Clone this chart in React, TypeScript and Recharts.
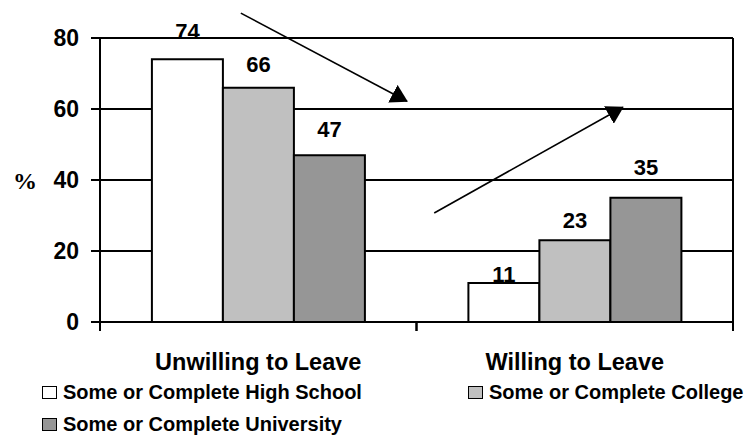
import React from 'react';
import { Bar, BarChart, CartesianGrid, LabelList, Legend, XAxis, YAxis } from 'recharts';

const categories = ['Unwilling to Leave', 'Willing to Leave'];
const highSchool = [74, 11];
const college = [66, 23];
const university = [47, 35];
const yTicks = [0, 20, 40, 60, 80];

const SERIES = [
  { key: 'highSchool', name: 'Some or Complete High School', color: '#FFFFFF', values: highSchool },
  { key: 'college', name: 'Some or Complete College', color: '#C0C0C0', values: college },
  { key: 'university', name: 'Some or Complete University', color: '#969696', values: university },
];

// how far each value label sits above its bar (baseline to bar top, px)
const LABEL_LIFT = [
  [20, 1],
  [16, 12],
  [18, 23],
];

// trend arrows, in category units (x) and percent (y)
const TREND_ARROWS = [
  { from: [0.445, 87], to: [0.97, 62.2] },
  { from: [1.056, 30.7], to: [1.652, 60.5] },
];

const FONT = "'Liberation Sans', Arial, sans-serif";
const CHART_W = 745;
const CHART_H = 430;
const MARGIN = { top: 30, right: 20, bottom: 0, left: 0 };
const Y_AXIS_W = 92;
const X_AXIS_H = 54;
const LEGEND_H = 62;
const LABEL_GAP = 31;
const Y_MAX = 80;
const LEGEND_COLS = [426, 285];

const PLOT = {
  left: MARGIN.left + Y_AXIS_W,
  top: MARGIN.top,
  width: CHART_W - MARGIN.left - MARGIN.right - Y_AXIS_W,
  height: CHART_H - MARGIN.top - MARGIN.bottom - X_AXIS_H - LEGEND_H,
};

const data = categories.map((category, i) => ({
  category,
  highSchool: highSchool[i],
  college: college[i],
  university: university[i],
}));

const CategoryTick = (props: any) => {
  const { x, y, payload } = props;
  const half = payload.offset ?? PLOT.width / categories.length / 2;
  const axisY = y - LABEL_GAP;
  return (
    <g>
      <line x1={x - half} x2={x - half} y1={axisY} y2={axisY + 9} stroke="#000" strokeWidth={2} />
      <line x1={x + half} x2={x + half} y1={axisY} y2={axisY + 9} stroke="#000" strokeWidth={2} />
      <text
        x={x}
        y={y}
        dy="0.71em"
        textAnchor="middle"
        fill="#000"
        fontFamily={FONT}
        fontWeight="bold"
        fontSize={23.5}
      >
        {payload.value}
      </text>
    </g>
  );
};

const PercentLabel = (props: any) => {
  const { viewBox } = props;
  return (
    <text
      x={viewBox.x + 5}
      y={viewBox.y + viewBox.height / 2}
      dy="0.36em"
      fill="#000"
      fontFamily="'Liberation Serif', 'Times New Roman', serif"
      fontWeight="bold"
      fontSize={24}
    >
      %
    </text>
  );
};

const valueLabel = (seriesIndex: number) => (props: any) => {
  const { x, y, width, value, index } = props;
  return (
    <text
      x={x + width / 2}
      y={y - LABEL_LIFT[seriesIndex][index]}
      textAnchor="middle"
      fill="#000"
      fontFamily={FONT}
      fontWeight="bold"
      fontSize={22}
    >
      {value}
    </text>
  );
};

const TrendArrows = () => {
  const toPx = ([u, v]: number[]) => [
    PLOT.left + (u / categories.length) * PLOT.width,
    PLOT.top + (1 - v / Y_MAX) * PLOT.height,
  ];
  return (
    <g>
      <defs>
        <marker
          id="trendHead"
          viewBox="0 0 17 20"
          refX={16}
          refY={10}
          markerWidth={17}
          markerHeight={20}
          markerUnits="userSpaceOnUse"
          orient="auto"
        >
          <path d="M0,0 L17,10 L0,20 Z" fill="#000" />
        </marker>
      </defs>
      {TREND_ARROWS.map((a, i) => {
        const [x1, y1] = toPx(a.from);
        const [x2, y2] = toPx(a.to);
        return (
          <line key={i} x1={x1} y1={y1} x2={x2} y2={y2} stroke="#000" strokeWidth={1.6} markerEnd="url(#trendHead)" />
        );
      })}
    </g>
  );
};

const renderLegend = () => (
  <div
    style={{
      display: 'grid',
      gridTemplateColumns: LEGEND_COLS.map((w) => `${w}px`).join(' '),
      gridAutoRows: '32px',
      paddingLeft: 34,
      height: LEGEND_H,
      boxSizing: 'border-box',
      fontFamily: FONT,
      fontWeight: 'bold',
      fontSize: 20,
      color: '#000',
    }}
  >
    {SERIES.map((s) => (
      <div key={s.key} style={{ display: 'flex', alignItems: 'center', whiteSpace: 'nowrap' }}>
        <span
          style={{
            display: 'inline-block',
            flex: 'none',
            width: 15,
            height: 13,
            border: '1.5px solid #000',
            boxSizing: 'border-box',
            background: s.color,
            marginRight: 6,
          }}
        />
        {s.name}
      </div>
    ))}
  </div>
);

const App: React.FunctionComponent = () => {
  return (
    <BarChart width={CHART_W} height={CHART_H} data={data} margin={MARGIN} barCategoryGap="16.4%" barGap={0}>
      <CartesianGrid
        stroke="#000"
        strokeWidth={2}
        verticalCoordinatesGenerator={({ offset }: any) => [offset.left + offset.width]}
      />
      <XAxis
        dataKey="category"
        height={X_AXIS_H}
        interval={0}
        tickLine={false}
        tickSize={0}
        tickMargin={LABEL_GAP}
        axisLine={{ stroke: '#000', strokeWidth: 2 }}
        tick={<CategoryTick />}
      />
      <YAxis
        width={Y_AXIS_W}
        domain={[0, Y_MAX]}
        ticks={yTicks}
        tickSize={9}
        tickMargin={12}
        axisLine={{ stroke: '#000', strokeWidth: 2 }}
        tickLine={{ stroke: '#000', strokeWidth: 2 }}
        tick={{ fill: '#000', fontFamily: FONT, fontWeight: 'bold', fontSize: 23 }}
        label={<PercentLabel />}
      />
      <Legend
        verticalAlign="bottom"
        content={renderLegend}
        wrapperStyle={{ left: 0, width: CHART_W, bottom: 0 }}
      />
      {SERIES.map((s, i) => (
        <Bar
          key={s.key}
          dataKey={s.key}
          name={s.name}
          fill={s.color}
          stroke="#000"
          strokeWidth={2}
          isAnimationActive={false}
        >
          <LabelList dataKey={s.key} content={valueLabel(i)} />
        </Bar>
      ))}
      <TrendArrows />
    </BarChart>
  );
};

export default App;
